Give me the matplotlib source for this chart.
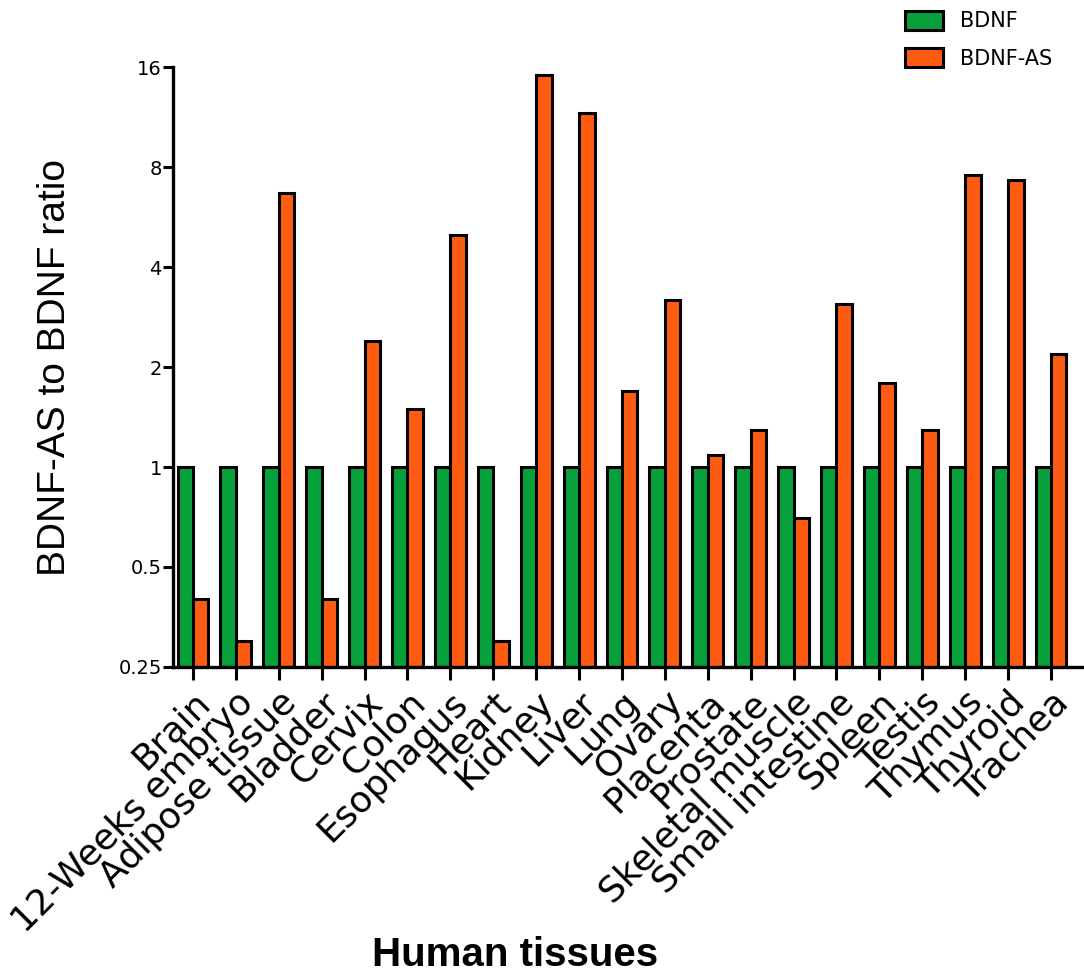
import matplotlib.pyplot as plt
import numpy as np

# tissues and the BDNF-AS / BDNF ratio per tissue (BDNF normalised to 1)
tissues = [
    "Brain", "12-Weeks embryo", "Adipose tissue", "Bladder", "Cervix",
    "Colon", "Esophagus", "Heart", "Kidney", "Liver", "Lung", "Ovary",
    "Placenta", "Prostate", "Skeletal muscle", "Small intestine", "Spleen",
    "Testis", "Thymus", "Thyroid", "Trachea",
]
bdnf = [1.0] * len(tissues)
bdnf_as = [
    0.40, 0.30, 6.7, 0.40, 2.39,
    1.49, 5.0, 0.30, 15.1, 11.6, 1.69, 3.18,
    1.09, 1.29, 0.70, 3.10, 1.79,
    1.29, 7.57, 7.31, 2.19,
]
y_ticks = [0.25, 0.5, 1, 2, 4, 8, 16]
y_tick_labels = ["0.25", "0.5", "1", "2", "4", "8", "16"]

green = "#07a03b"
orange = "#fd5a12"

plt.rcParams["font.family"] = ["Liberation Sans", "DejaVu Sans"]

fig = plt.figure(figsize=(10.84, 9.74), dpi=100)
ax = fig.add_axes([0.1596, 0.3152, 0.8404, 0.616])

x = np.arange(len(tissues))
w = 0.36
base = 0.25
ax.bar(x - w / 2, np.array(bdnf) - base, bottom=base, width=w,
       color=green, edgecolor="black", linewidth=2.2, label="BDNF")
ax.bar(x + w / 2, np.array(bdnf_as) - base, bottom=base, width=w,
       color=orange, edgecolor="black", linewidth=2.2, label="BDNF-AS")

ax.set_yscale("log", base=2)
ax.set_ylim(0.25, 16)
ax.set_xlim(-0.466, 20.77)
ax.set_yticks(y_ticks)
ax.set_yticklabels(y_tick_labels, family=["DejaVu Sans"], fontsize=14)
ax.minorticks_off()
ax.set_xticks(x)
ax.set_xticklabels(tissues, rotation=45, ha="right", rotation_mode="anchor",
                   fontsize=26, family=["DejaVu Sans"])

for side in ["top", "right"]:
    ax.spines[side].set_visible(False)
for side in ["left", "bottom"]:
    ax.spines[side].set_linewidth(2.4)

ax.tick_params(axis="y", length=7, width=2.2, pad=1)
ax.tick_params(axis="x", length=9, width=2.2, pad=4)

ax.set_ylabel("BDNF-AS to BDNF ratio", fontsize=28, labelpad=33)
fig.text(0.475, 0.0, "Human tissues", fontsize=29, fontweight="bold",
         ha="center", va="bottom")

fig.legend(loc="upper left", bbox_to_anchor=(0.818, 1.008), frameon=False,
           prop={"family": ["DejaVu Sans"], "size": 15},
           handlelength=1.8, handleheight=1.0,
           labelspacing=0.8, handletextpad=0.8)

fig.savefig("out.png", dpi=100)
